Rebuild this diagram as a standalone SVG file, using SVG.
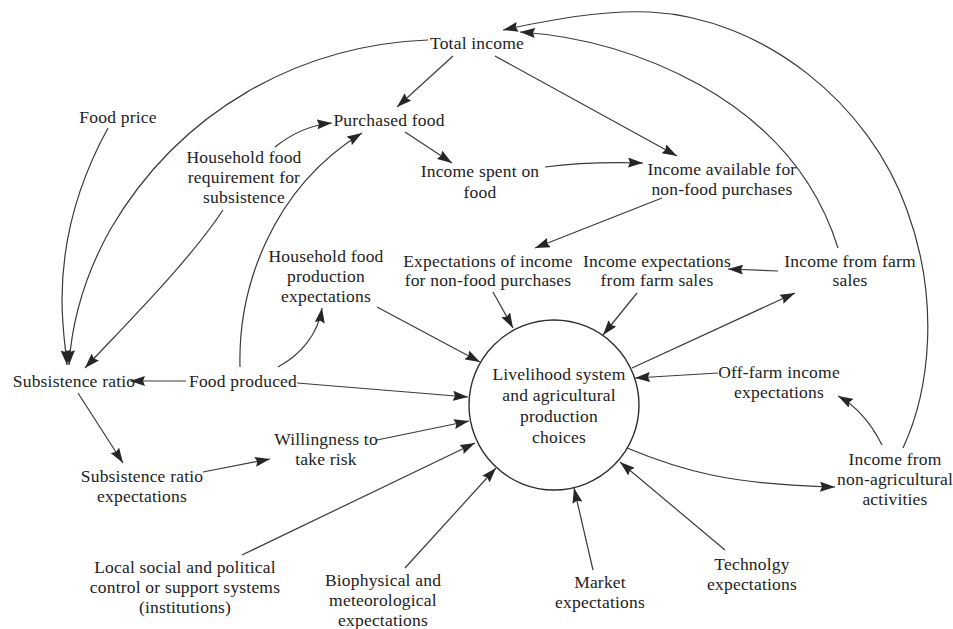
<svg xmlns="http://www.w3.org/2000/svg" width="953" height="629" viewBox="0 0 953 629">
<defs>
<marker id="ah" viewBox="0 0 15 10" refX="15" refY="5" markerWidth="15" markerHeight="10" markerUnits="userSpaceOnUse" orient="auto">
<path d="M0,0 L15,5 L0,10 L2,5 z" fill="#262626"/>
</marker>
<style>
text{font-family:"Liberation Serif","Times New Roman",serif;font-size:17.5px;letter-spacing:0.2px;fill:#222;text-anchor:middle}
.c path,.c line{fill:none;stroke:#3a3a3a;stroke-width:1.2;marker-end:url(#ah)}
.circ{fill:#fff;stroke:#2e2e2e;stroke-width:1.4}
</style>
</defs>
<rect width="953" height="629" fill="#fff"/>
<g class="c" id="connectors">
<path d="M428,40 C300,45 180,110 110,230 C85,275 72,320 69,365"/>
<path d="M108,128 C85,170 62,230 62,300 C62,325 65,345 67,365"/>
<path d="M223,210 C190,260 130,320 85,368"/>
<path d="M275,147 C290,135 310,125 332,123"/>
<path d="M240,367 C238,290 270,190 362,133"/>
<path d="M278,367 C300,355 318,335 322,308"/>
<line x1="186" y1="381" x2="130" y2="381"/>
<line x1="297" y1="383" x2="468" y2="397"/>
<line x1="377" y1="307" x2="480" y2="362"/>
<line x1="453" y1="56" x2="397" y2="107"/>
<line x1="495" y1="56" x2="677" y2="156"/>
<line x1="405" y1="132" x2="452" y2="163"/>
<path d="M545,167 C575,163 610,162 643,163"/>
<line x1="662" y1="198" x2="535" y2="248"/>
<line x1="493" y1="292" x2="513" y2="328"/>
<line x1="637" y1="293" x2="603" y2="335"/>
<line x1="778" y1="271" x2="728" y2="269"/>
<line x1="632" y1="368" x2="795" y2="293"/>
<path d="M838,248 C820,190 780,130 700,85 C640,52 580,36 520,32"/>
<path d="M903,448 C930,390 940,300 907,210 C870,105 765,18 650,12 C600,10 550,20 503,30"/>
<path d="M882,445 C872,425 858,407 838,396"/>
<line x1="718" y1="373" x2="635" y2="378"/>
<path d="M627,448 C680,470 730,485 835,487"/>
<line x1="725" y1="550" x2="620" y2="462"/>
<line x1="593" y1="570" x2="574" y2="488"/>
<line x1="405" y1="568" x2="496" y2="468"/>
<line x1="242" y1="555" x2="475" y2="443"/>
<line x1="377" y1="440" x2="469" y2="421"/>
<line x1="203" y1="472" x2="270" y2="459"/>
<line x1="78" y1="393" x2="123" y2="463"/>
</g>
<g id="livelihood" font-family="Liberation Serif, serif">
<circle class="circ" cx="554" cy="405" r="85"/>
<text x="559" y="380">Livelihood system</text>
<text x="559" y="401">and agricultural</text>
<text x="559" y="422">production</text>
<text x="559" y="443">choices</text>
</g>
<g id="total-income"><text x="477" y="49">Total income</text></g>
<g id="food-price"><text x="118" y="123">Food price</text></g>
<g id="purchased-food"><text x="389" y="126">Purchased food</text></g>
<g id="household-food-requirement"><text x="244" y="163">Household food</text><text x="244" y="183">requirement for</text><text x="244" y="203">subsistence</text></g>
<g id="income-spent-on-food"><text x="480" y="177">Income spent on</text><text x="480" y="198">food</text></g>
<g id="income-available"><text x="722" y="175">Income available for</text><text x="722" y="195">non-food purchases</text></g>
<g id="expectations-nonfood"><text x="488" y="267">Expectations of income</text><text x="488" y="286">for non-food purchases</text></g>
<g id="income-expectations-farm"><text x="657" y="267">Income expectations</text><text x="657" y="286">from farm sales</text></g>
<g id="income-farm-sales"><text x="850" y="267">Income from farm</text><text x="850" y="286">sales</text></g>
<g id="household-food-production"><text x="326" y="262">Household food</text><text x="326" y="282">production</text><text x="326" y="302">expectations</text></g>
<g id="subsistence-ratio"><text x="74" y="387">Subsistence ratio</text></g>
<g id="food-produced"><text x="243" y="387">Food produced</text></g>
<g id="off-farm"><text x="779" y="378">Off-farm income</text><text x="779" y="398">expectations</text></g>
<g id="income-non-ag"><text x="895" y="465">Income from</text><text x="895" y="485">non-agricultural</text><text x="895" y="505">activities</text></g>
<g id="willingness"><text x="326" y="445">Willingness to</text><text x="326" y="465">take risk</text></g>
<g id="subsistence-ratio-expectations"><text x="142" y="482">Subsistence ratio</text><text x="142" y="502">expectations</text></g>
<g id="local-social"><text x="185" y="573">Local social and political</text><text x="185" y="593">control or support systems</text><text x="185" y="613">(institutions)</text></g>
<g id="biophysical"><text x="383" y="586">Biophysical and</text><text x="383" y="606">meteorological</text><text x="383" y="626">expectations</text></g>
<g id="market"><text x="600" y="588">Market</text><text x="600" y="608">expectations</text></g>
<g id="technology"><text x="752" y="570">Technolgy</text><text x="752" y="590">expectations</text></g>
</svg>
